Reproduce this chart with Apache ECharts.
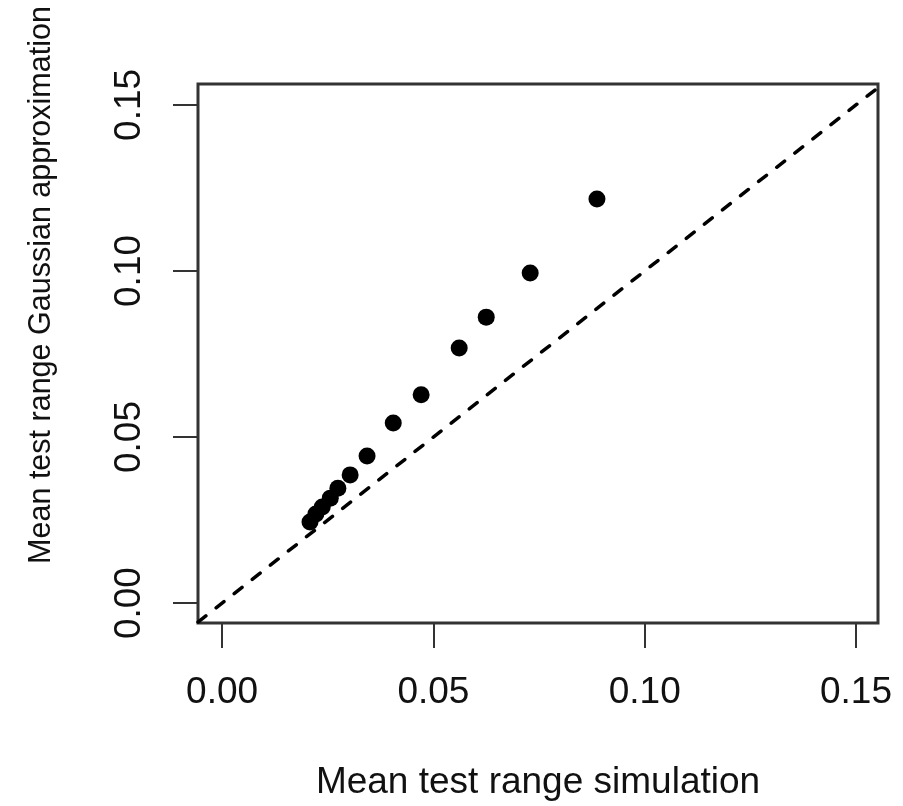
<!DOCTYPE html>
<html>
<head>
<meta charset="utf-8">
<script src="https://cdn.jsdelivr.net/npm/echarts@6/dist/echarts.min.js"></script>
<style>
html,body{margin:0;padding:0;background:#fff;}
#chart{width:903px;height:806px;}
</style>
</head>
<body>
<div id="chart"></div>
<script>
// Data
const simX = [0.0208, 0.0222, 0.0237, 0.0256, 0.0274, 0.0303, 0.0343, 0.0405, 0.0471, 0.0561, 0.0625, 0.0729, 0.0887];
const gaussY = [0.0244, 0.0268, 0.0289, 0.0316, 0.0346, 0.0386, 0.0443, 0.0542, 0.0627, 0.0768, 0.0861, 0.0994, 0.1217];
const tickValues = [0.00, 0.05, 0.10, 0.15];
const xRange = [-0.0057, 0.1552];
const yRange = [-0.006, 0.1563];
const xTitle = 'Mean test range simulation';
const yTitle = 'Mean test range Gaussian approximation';

const points = simX.map((x, i) => [x, gaussY[i]]);
const identity = [[xRange[0], xRange[0]], [xRange[1], xRange[1]]];

const chart = echarts.init(document.getElementById('chart'), null, {renderer: 'canvas'});
const font = 'Liberation Sans, Arial, sans-serif';
const textColor = '#111';

chart.setOption({
  animation: false,
  backgroundColor: '#fff',
  grid: {
    left: 198, right: 25, top: 84, bottom: 183,
    show: true, borderColor: '#333', borderWidth: 3, backgroundColor: 'transparent'
  },
  xAxis: {
    type: 'value', min: xRange[0], max: xRange[1],
    splitLine: {show: false},
    axisLine: {show: false, onZero: false},
    axisTick: {show: true, inside: false, length: 25, lineStyle: {color: '#333', width: 2}, customValues: tickValues},
    axisLabel: {
      show: true, customValues: tickValues, margin: 51,
      formatter: v => v.toFixed(2),
      fontFamily: font, fontSize: 37, color: textColor
    }
  },
  yAxis: {
    type: 'value', min: yRange[0], max: yRange[1],
    splitLine: {show: false},
    axisLine: {show: false, onZero: false},
    axisTick: {show: true, inside: false, length: 25, lineStyle: {color: '#333', width: 2}, customValues: tickValues},
    axisLabel: {
      show: true, customValues: tickValues, margin: 50, rotate: 90,
      formatter: v => v.toFixed(2),
      fontFamily: font, fontSize: 37, color: textColor
    }
  },
  series: [
    {
      type: 'line', data: identity, showSymbol: false, symbol: 'none',
      lineStyle: {color: '#000', width: 3.5, type: [10, 13], cap: 'round'},
      clip: true, z: 1
    },
    {
      type: 'scatter', data: points, symbol: 'circle', symbolSize: 17,
      itemStyle: {color: '#000', opacity: 1}, z: 2
    }
  ],
  graphic: [
    {
      type: 'text', x: 42, y: 285, rotation: Math.PI / 2,
      style: {text: yTitle, font: '30.5px ' + font, fill: textColor, align: 'center', verticalAlign: 'middle'}
    },
    {
      type: 'text', x: 538, y: 783,
      style: {text: xTitle, font: '37px ' + font, fill: textColor, align: 'center', verticalAlign: 'middle'}
    }
  ]
});
</script>
</body>
</html>
